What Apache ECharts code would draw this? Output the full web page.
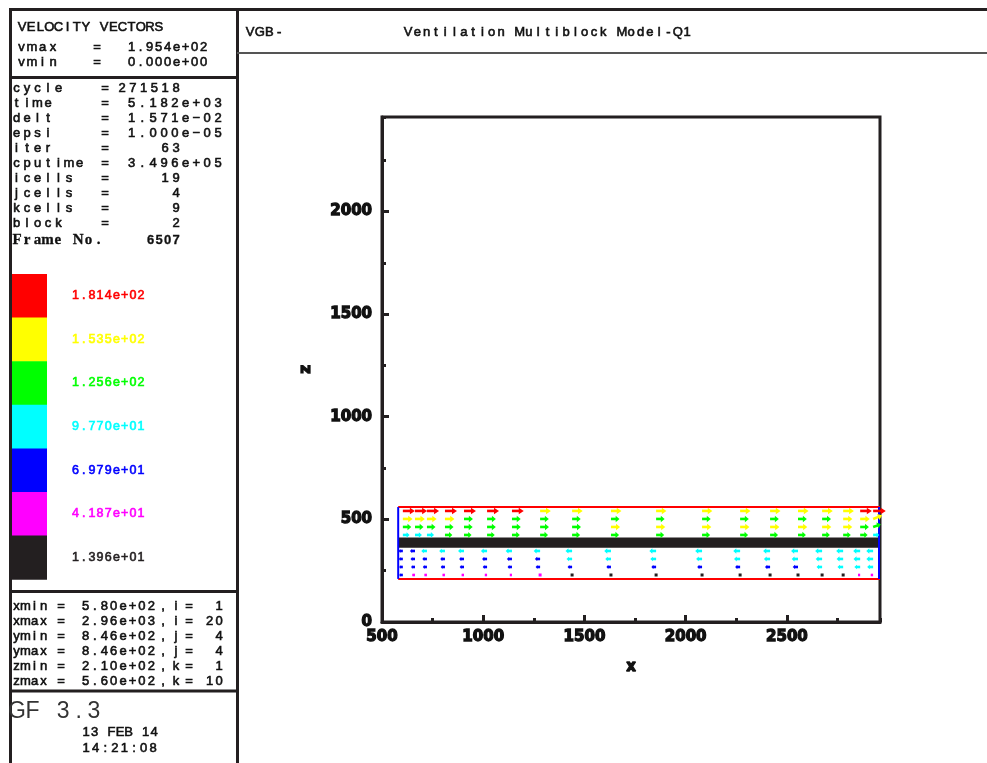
<!DOCTYPE html>
<html>
<head>
<meta charset="utf-8">
<script src="https://cdn.jsdelivr.net/npm/echarts@6/dist/echarts.min.js"></script>
<style>
  html, body { margin: 0; padding: 0; background: #ffffff; }
  #chart { width: 987px; height: 763px; }
</style>
</head>
<body>
<div id="chart"></div>
<script>
// Velocity magnitude range and colour bands of the vector plot
const vmax = 195.4;
const vmin = 0.0;
const bandLevels = [13.96, 41.87, 69.79, 97.70, 125.6, 153.5, 181.4];
const bandColors = ['#231f20', '#ff00ff', '#0000ff', '#00ffff', '#00ff00', '#ffff00', '#ff0000'];

// Cell-centre coordinates of the vector grid (x along the block, z vertical)
const cellX = [603, 663, 722, 811, 905, 1019, 1142, 1281, 1439, 1631, 1854, 2081, 2269, 2417, 2555, 2674, 2778, 2862, 2926];
const cellZ = [229, 268, 307, 346, 424, 463, 502, 541];

// Horizontal velocity u for each row of cells (bottom row first)
const u229 = [-58, -45, -42, -40, -38, -36, -33, -30, -25, -22, -20, -18, -18, -19, -20, -22, -26, -32, -38];
const u268 = [-58, -62, -64, -66, -67, -68, -69, -70, -71, -72, -74, -76, -78, -80, -82, -86, -88, -90, -92];
const u307 = [-62, -70, -72, -74, -76, -78, -80, -82, -86, -88, -90, -92, -94, -96, -98, -100, -102, -103, -104];
const u346 = [-66, -80, -88, -90, -92, -95, -98, -100, -102, -104, -105, -106, -106, -107, -107, -108, -108, -108, -106];
const u424 = [104, 107, 110, 114, 117, 119, 121, 123, 124, 125, 125, 125, 124, 123, 122, 120, 118, 115, 95];
const u463 = [130, 131, 132, 133, 134, 135, 136, 137, 138, 141, 142, 143, 144, 144, 143, 142, 141, 135, 118];
const u502 = [150, 152, 150, 146, 138, 136, 135, 134, 133, 132, 132, 133, 134, 135, 136, 138, 142, 148, 140];
const u541 = [186, 187, 187, 186, 185, 184, 182, 166, 164, 162, 160, 159, 160, 161, 163, 165, 166, 180, 195.4];
const uRows = [u229, u268, u307, u346, u424, u463, u502, u541];
// Vertical velocity w in the last column of each row (zero elsewhere)
const wLastColumn = [0, 0, 0, 0, 0, 40, 55, 0];

// Block outline and the solid layer inside it
const blockX = [580, 2960];
const blockZ = [210, 560];
const solidZ = [362, 412];

// Axes
const xRange = [500, 2960];
const zRange = [0, 2460];
const xTickStep = 500;
const zTickStep = 500;
const minorStep = 250;

// Run information panel
const runLabels = ['cycle', 'time', 'delt', 'epsi', 'iter', 'cputime', 'icells', 'jcells', 'kcells', 'block'];
const runValues = ['271518', '5.182e+03', '1.571e\u221202', '1.000e\u221205', '63', '3.496e+05', '19', '4', '9', '2'];
const frameNumber = '6507';
const extentNames = ['xmin', 'xmax', 'ymin', 'ymax', 'zmin', 'zmax'];
const extentValues = ['5.80e+02', '2.96e+03', '8.46e+02', '8.46e+02', '2.10e+02', '5.60e+02'];
const extentIndexNames = ['i', 'i', 'j', 'j', 'k', 'k'];
const extentIndexValues = ['1', '20', '4', '4', '1', '10'];

const ink = '#231f20';
const textInk = '#111111';
const ARROW_SCALE = 0.32; // data units of arrow length per unit of speed

function fmtExp(v) {
  const parts = v.toExponential(3).split('e');
  const n = parseInt(parts[1], 10);
  return parts[0] + 'e' + (n < 0 ? '\u2212' : '+') + String(Math.abs(n)).padStart(2, '0');
}

// Fixed-pitch text, one glyph per cell, like a plotter font
function spaced(str, firstCenter, y, pitch, font, fill, weight) {
  const out = [];
  const c = fill || textInk;
  for (let i = 0; i < str.length; i++) {
    const ch = str[i];
    if (ch === ' ') continue;
    out.push({
      type: 'text', silent: true,
      style: { text: ch, x: firstCenter + i * pitch, y: y, font: font, fill: c,
               stroke: c, lineWidth: weight === undefined ? 0.6 : weight,
               textAlign: 'center', textVerticalAlign: 'middle' }
    });
  }
  return out;
}
function spacedRight(str, lastCenter, y, pitch, font, fill, weight) {
  return spaced(str, lastCenter - (str.length - 1) * pitch, y, pitch, font, fill, weight);
}
function hline(x1, x2, y, w, c) {
  return { type: 'line', silent: true, shape: { x1: x1, y1: y, x2: x2, y2: y }, style: { stroke: c || ink, lineWidth: w } };
}
function vline(x, y1, y2, w, c) {
  return { type: 'line', silent: true, shape: { x1: x, y1: y1, x2: x, y2: y2 }, style: { stroke: c || ink, lineWidth: w } };
}

const smallFont = '13px "Liberation Sans", Arial, sans-serif';
const g = [];

// Panel frame
g.push(hline(9, 987, 9.5, 3));
g.push(vline(10.5, 8, 763, 3));
g.push(vline(237.5, 8, 763, 3));
g.push(hline(9, 239, 77.5, 3));
g.push(hline(9, 239, 591.5, 3));
g.push(hline(9, 239, 691, 3));
g.push(hline(237, 987, 53, 2, '#555555'));

// Header
g.push(...spaced('VGB-', 250, 32, 9.7, smallFont));
g.push(...spaced('Ventilation Multiblock Model-Q1', 408, 32, 9.3, smallFont));

// Velocity range box
g.push(...spaced('VELOCITY VECTORS', 22, 27, 9.13, smallFont));
g.push(...spaced('vmax', 21.5, 47, 10.5, smallFont));
g.push(...spaced('=', 97, 47, 9, smallFont));
g.push(...spacedRight(fmtExp(vmax), 203.5, 47, 9, smallFont));
g.push(...spaced('vmin', 21.5, 62, 10.5, smallFont));
g.push(...spaced('=', 97, 62, 9, smallFont));
g.push(...spacedRight(fmtExp(vmin), 203.5, 62, 9, smallFont));

// Run information
runLabels.forEach(function (lab, i) {
  const y = 88 + i * 15.1;
  const val = runValues[i];
  g.push(...spaced(lab, 16.5, y, 10.5, smallFont));
  g.push(...spaced('=', 105, y, 10, smallFont));
  const isInt = /^\d+$/.test(val);
  g.push(...spacedRight(val, isInt ? 176 : 218, y, 10.8, smallFont));
});
g.push(...spaced('Frame No.', 17, 240, 10.2, 'bold 15px "Liberation Serif", "Times New Roman", serif', textInk, 0.3));
g.push(...spacedRight(frameNumber, 176, 240, 8.5, 'bold 13px "Liberation Sans", Arial, sans-serif', textInk, 0.3));

// Colour legend
const blockTop = 274, blockH = 43.6;
for (let k = 0; k < bandColors.length; k++) {
  const idx = bandColors.length - 1 - k;
  const top = blockTop + k * blockH;
  g.push({ type: 'rect', silent: true, shape: { x: 12, y: top, width: 35, height: blockH + 0.5 },
           style: { fill: bandColors[idx] } });
  g.push(...spaced(fmtExp(bandLevels[idx]), 75.5, top + blockH / 2, 8.2, '12.5px "Liberation Sans", Arial, sans-serif', bandColors[idx]));
}

// Extents box
extentNames.forEach(function (nm, i) {
  const y = 606 + i * 15;
  g.push(...spaced(nm, 16.5, y, 9, smallFont));
  g.push(...spaced('=', 61, y, 9, smallFont));
  g.push(...spaced(extentValues[i], 85.5, y, 9.4, smallFont));
  g.push(...spaced(',', 163, y, 9, smallFont));
  g.push(...spaced(extentIndexNames[i] + '=', 176, y, 13, smallFont));
  g.push(...spacedRight(extentIndexValues[i], 219, y, 9.4, smallFont));
});

// Program and date stamp
g.push(...spaced('GF 3.3', 17, 712, 15.4, '23px "Liberation Sans", Arial, sans-serif', '#333333', 0));
g.push(...spaced('13 FEB 14', 86, 732, 8.5, smallFont));
g.push(...spaced('14:21:08', 86, 748, 9.6, smallFont));

// Vector data: one item per cell [x, z, u, w]
const vectors = [];
uRows.forEach(function (row, r) {
  row.forEach(function (u, c) {
    const w = (c === row.length - 1) ? wLastColumn[r] : 0;
    vectors.push([cellX[c], cellZ[r], u, w]);
  });
});

function bandColor(speed) {
  const n = bandColors.length;
  return bandColors[Math.min(n - 1, Math.floor(speed / (vmax / n)))];
}

function renderArrow(params, api) {
  const x = api.value(0), z = api.value(1), u = api.value(2), w = api.value(3);
  const color = bandColor(Math.hypot(u, w));
  const p0 = api.coord([x, z]);
  const p1 = api.coord([x + u * ARROW_SCALE, z + w * ARROW_SCALE]);
  const dx = p1[0] - p0[0], dy = p1[1] - p0[1];
  const len = Math.hypot(dx, dy);
  if (len < 2) {
    return { type: 'rect', shape: { x: p0[0] - 1.5, y: p0[1] - 1.5, width: 3, height: 3 }, style: { fill: color } };
  }
  const ux = dx / len, uy = dy / len;
  const head = Math.min(5, len * 0.45), hw = Math.min(3.3, len * 0.4);
  const bx = p1[0] - ux * head, by = p1[1] - uy * head;
  return {
    type: 'group',
    children: [
      { type: 'line', shape: { x1: p0[0], y1: p0[1], x2: bx + ux, y2: by + uy }, style: { stroke: color, lineWidth: 2.6 } },
      { type: 'polygon', shape: { points: [[p1[0], p1[1]], [bx - uy * hw, by + ux * hw], [bx + uy * hw, by - ux * hw]] },
        style: { fill: color } }
    ]
  };
}

function renderBlock(params, api) {
  const a = api.coord([blockX[0], blockZ[1]]);
  const b = api.coord([blockX[1], blockZ[0]]);
  const s0 = api.coord([blockX[0], solidZ[1]]);
  const s1 = api.coord([blockX[1], solidZ[0]]);
  return {
    type: 'group',
    children: [
      { type: 'rect', shape: { x: s0[0], y: s0[1], width: s1[0] - s0[0], height: s1[1] - s0[1] },
        style: { fill: ink } },
      { type: 'line', shape: { x1: a[0], y1: a[1], x2: b[0], y2: a[1] }, style: { stroke: '#ff0000', lineWidth: 2 } },
      { type: 'line', shape: { x1: a[0], y1: b[1], x2: b[0], y2: b[1] }, style: { stroke: '#ff0000', lineWidth: 2 } },
      { type: 'line', shape: { x1: a[0], y1: a[1], x2: a[0], y2: b[1] }, style: { stroke: '#0000ff', lineWidth: 2 } },
      { type: 'line', shape: { x1: b[0] - 1, y1: a[1], x2: b[0] - 1, y2: b[1] }, style: { stroke: '#0000ff', lineWidth: 2 } }
    ]
  };
}

const tickFont = { color: '#111111', fontFamily: '"DejaVu Sans", sans-serif', fontWeight: 'bold', fontSize: 15,
                   textBorderColor: '#111111', textBorderWidth: 1.3,
                   formatter: function (v) { return String(v); } };
const nameFont = { color: '#111111', fontFamily: '"DejaVu Sans", sans-serif', fontWeight: 'bold', fontSize: 15,
                   textBorderColor: '#111111', textBorderWidth: 1.3 };

const chart = echarts.init(document.getElementById('chart'), null, { renderer: 'canvas' });
chart.setOption({
  animation: false,
  backgroundColor: '#ffffff',
  grid: { left: 382, top: 117, width: 498, height: 505, show: true, borderColor: ink, borderWidth: 3,
          backgroundColor: 'transparent', containLabel: false },
  xAxis: [
    {
      type: 'value', position: 'bottom', min: xRange[0], max: xRange[1], interval: xTickStep,
      name: 'x', nameLocation: 'middle', nameGap: 38, nameTextStyle: nameFont,
      axisLine: { lineStyle: { color: ink, width: 3 } },
      axisTick: { inside: true, length: 7, lineStyle: { color: ink, width: 3 } },
      axisLabel: Object.assign({ margin: 8, showMaxLabel: false }, tickFont),
      splitLine: { show: false }
    },
    {
      type: 'value', position: 'bottom', min: xRange[0], max: xRange[1], interval: minorStep,
      axisLine: { show: false },
      axisTick: { inside: true, length: 4, lineStyle: { color: ink, width: 3 } },
      axisLabel: { show: false }, splitLine: { show: false }
    }
  ],
  yAxis: [
    {
      type: 'value', position: 'left', min: zRange[0], max: zRange[1], interval: zTickStep,
      name: 'z', nameLocation: 'middle', nameGap: 68, nameRotate: 90, nameTextStyle: nameFont,
      axisLine: { lineStyle: { color: ink, width: 3 } },
      axisTick: { inside: true, length: 7, lineStyle: { color: ink, width: 3 } },
      axisLabel: Object.assign({ margin: 10, showMaxLabel: false }, tickFont),
      splitLine: { show: false }
    },
    {
      type: 'value', position: 'left', min: zRange[0], max: zRange[1], interval: minorStep,
      axisLine: { show: false },
      axisTick: { inside: true, length: 4, lineStyle: { color: ink, width: 3 } },
      axisLabel: { show: false }, splitLine: { show: false }
    }
  ],
  series: [
    { type: 'custom', name: 'block', xAxisIndex: 0, yAxisIndex: 0, data: [[blockX[0], blockZ[0]]],
      renderItem: renderBlock, silent: true, z: 2 },
    { type: 'custom', name: 'velocity', xAxisIndex: 0, yAxisIndex: 0, data: vectors,
      renderItem: renderArrow, silent: true, z: 3,
      encode: { x: 0, y: 1 } }
  ],
  graphic: { elements: g }
});
</script>
</body>
</html>
